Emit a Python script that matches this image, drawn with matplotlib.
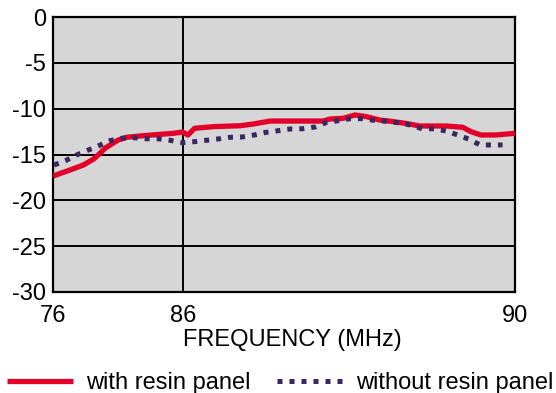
#! /usr/bin/env python3

import matplotlib
matplotlib.use('Agg')
import matplotlib.pyplot as plt
import numpy as np

plt.rcParams['font.family'] = ['Liberation Sans', 'DejaVu Sans']

# frequency (MHz) / level (dB)
WITH_FREQ = [76.0, 77.31, 78.33, 79.10, 79.62, 80.0, 80.52, 81.02, 81.67, 82.92,
             84.23, 85.25, 85.95, 86.06, 86.14, 86.37, 86.69, 86.85, 87.05, 87.29,
             87.69, 87.77, 87.93, 88.07, 88.21, 88.37, 88.48, 88.68, 88.85, 89.17,
             89.37, 89.47, 89.59, 89.77, 90.0]
WITH_LEVEL = [-17.35, -16.69, -16.15, -15.52, -14.87, -14.32, -13.85, -13.42, -13.12, -12.95,
              -12.80, -12.69, -12.55, -12.87, -12.14, -11.96, -11.86, -11.67, -11.35, -11.35,
              -11.35, -11.13, -11.05, -10.69, -10.87, -11.24, -11.35, -11.60, -11.89, -11.89,
              -12.03, -12.51, -12.87, -12.87, -12.69]

WITHOUT_FREQ = [76.08, 76.95, 77.82, 78.67, 79.52, 80.38, 81.28, 82.23, 83.18, 84.08,
                85.0, 85.95, 86.14, 86.28, 86.42, 86.57, 86.71, 86.86, 87.0, 87.15,
                87.29, 87.44, 87.59, 87.72, 87.87, 88.02, 88.16, 88.30, 88.45, 88.59,
                88.74, 88.88, 89.03, 89.17, 89.31, 89.44, 89.58, 89.71, 89.85]
WITHOUT_LEVEL = [-16.15, -15.68, -15.05, -14.54, -14.04, -13.49, -13.23, -13.17, -13.28, -13.28,
                 -13.45, -13.71, -13.60, -13.45, -13.31, -13.12, -13.09, -12.87, -12.58, -12.40,
                 -12.22, -12.19, -12.00, -11.53, -11.31, -11.09, -11.09, -11.27, -11.38, -11.53,
                 -11.78, -12.19, -12.19, -12.44, -12.87, -13.31, -13.96, -13.96, -13.96]

X_TICKS = [76, 86, 90]
Y_TICKS = [0, -5, -10, -15, -20, -25, -30]
LABELS = ['with resin panel', 'without resin panel']

RED = '#e2002b'
PURPLE = '#3a2660'
FONTSIZE = 17

# the axis is stretched: 76-86 takes the first ~28% of the width, 86-90 the rest
BREAK = 86.0
BREAK_FRAC = 130 / 462


def _forward(x):
    x = np.asarray(x, dtype=float)
    return np.where(x <= BREAK,
                    (x - 76) / 10 * BREAK_FRAC,
                    BREAK_FRAC + (x - BREAK) / 4 * (1 - BREAK_FRAC))


def _inverse(u):
    u = np.asarray(u, dtype=float)
    return np.where(u <= BREAK_FRAC,
                    76 + u / BREAK_FRAC * 10,
                    BREAK + (u - BREAK_FRAC) / (1 - BREAK_FRAC) * 4)


def main() -> None:
    fig = plt.figure(figsize=(5.56, 3.93), dpi=100)
    ax = fig.add_axes([53 / 556, 1 - 292 / 393, 462 / 556, 275 / 393])
    ax.set_facecolor('#d6d6d6')

    ax.set_xscale('function', functions=(_forward, _inverse))
    ax.set_xlim(76, 90)
    ax.set_ylim(-30, 0)

    for y in Y_TICKS[1:-1]:
        ax.axhline(y, color='black', lw=1.4, zorder=1)
    ax.axvline(BREAK, color='black', lw=1.4, zorder=1)

    ax.plot(WITH_FREQ, WITH_LEVEL, color=RED, lw=3.8, solid_capstyle='butt',
            solid_joinstyle='round', label=LABELS[0], zorder=3)
    ax.plot(WITHOUT_FREQ, WITHOUT_LEVEL, color=PURPLE, lw=3.6,
            dashes=(1.0, 1.4), label=LABELS[1], zorder=4)

    ax.set_xticks(X_TICKS)
    ax.set_xticklabels([str(t) for t in X_TICKS])
    ax.set_yticks(Y_TICKS)
    ax.set_yticklabels([str(t) for t in Y_TICKS])
    ax.xaxis.set_minor_locator(plt.NullLocator())
    ax.tick_params(axis='both', length=0, labelsize=FONTSIZE)
    ax.tick_params(axis='x', pad=9)
    ax.tick_params(axis='y', pad=5)
    # nudge the end labels inward a little, as in the reference
    xlabels = ax.get_xticklabels()
    xlabels[0].set_ha('center')

    for spine in ax.spines.values():
        spine.set_linewidth(1.6)
        spine.set_color('black')

    fig.text(183 / 556, 1 - 340 / 393, 'FREQUENCY (MHz)', fontsize=FONTSIZE,
             ha='left', va='center')

    fig.legend(loc='center left', bbox_to_anchor=(7 / 556, 1 - 383 / 393),
               ncol=2, frameon=False, fontsize=FONTSIZE, borderpad=0,
               borderaxespad=0, handlelength=2.8, handletextpad=0.55,
               columnspacing=1.1)

    fig.savefig('out.png', dpi=100)
    plt.close(fig)


if __name__ == '__main__':
    main()
